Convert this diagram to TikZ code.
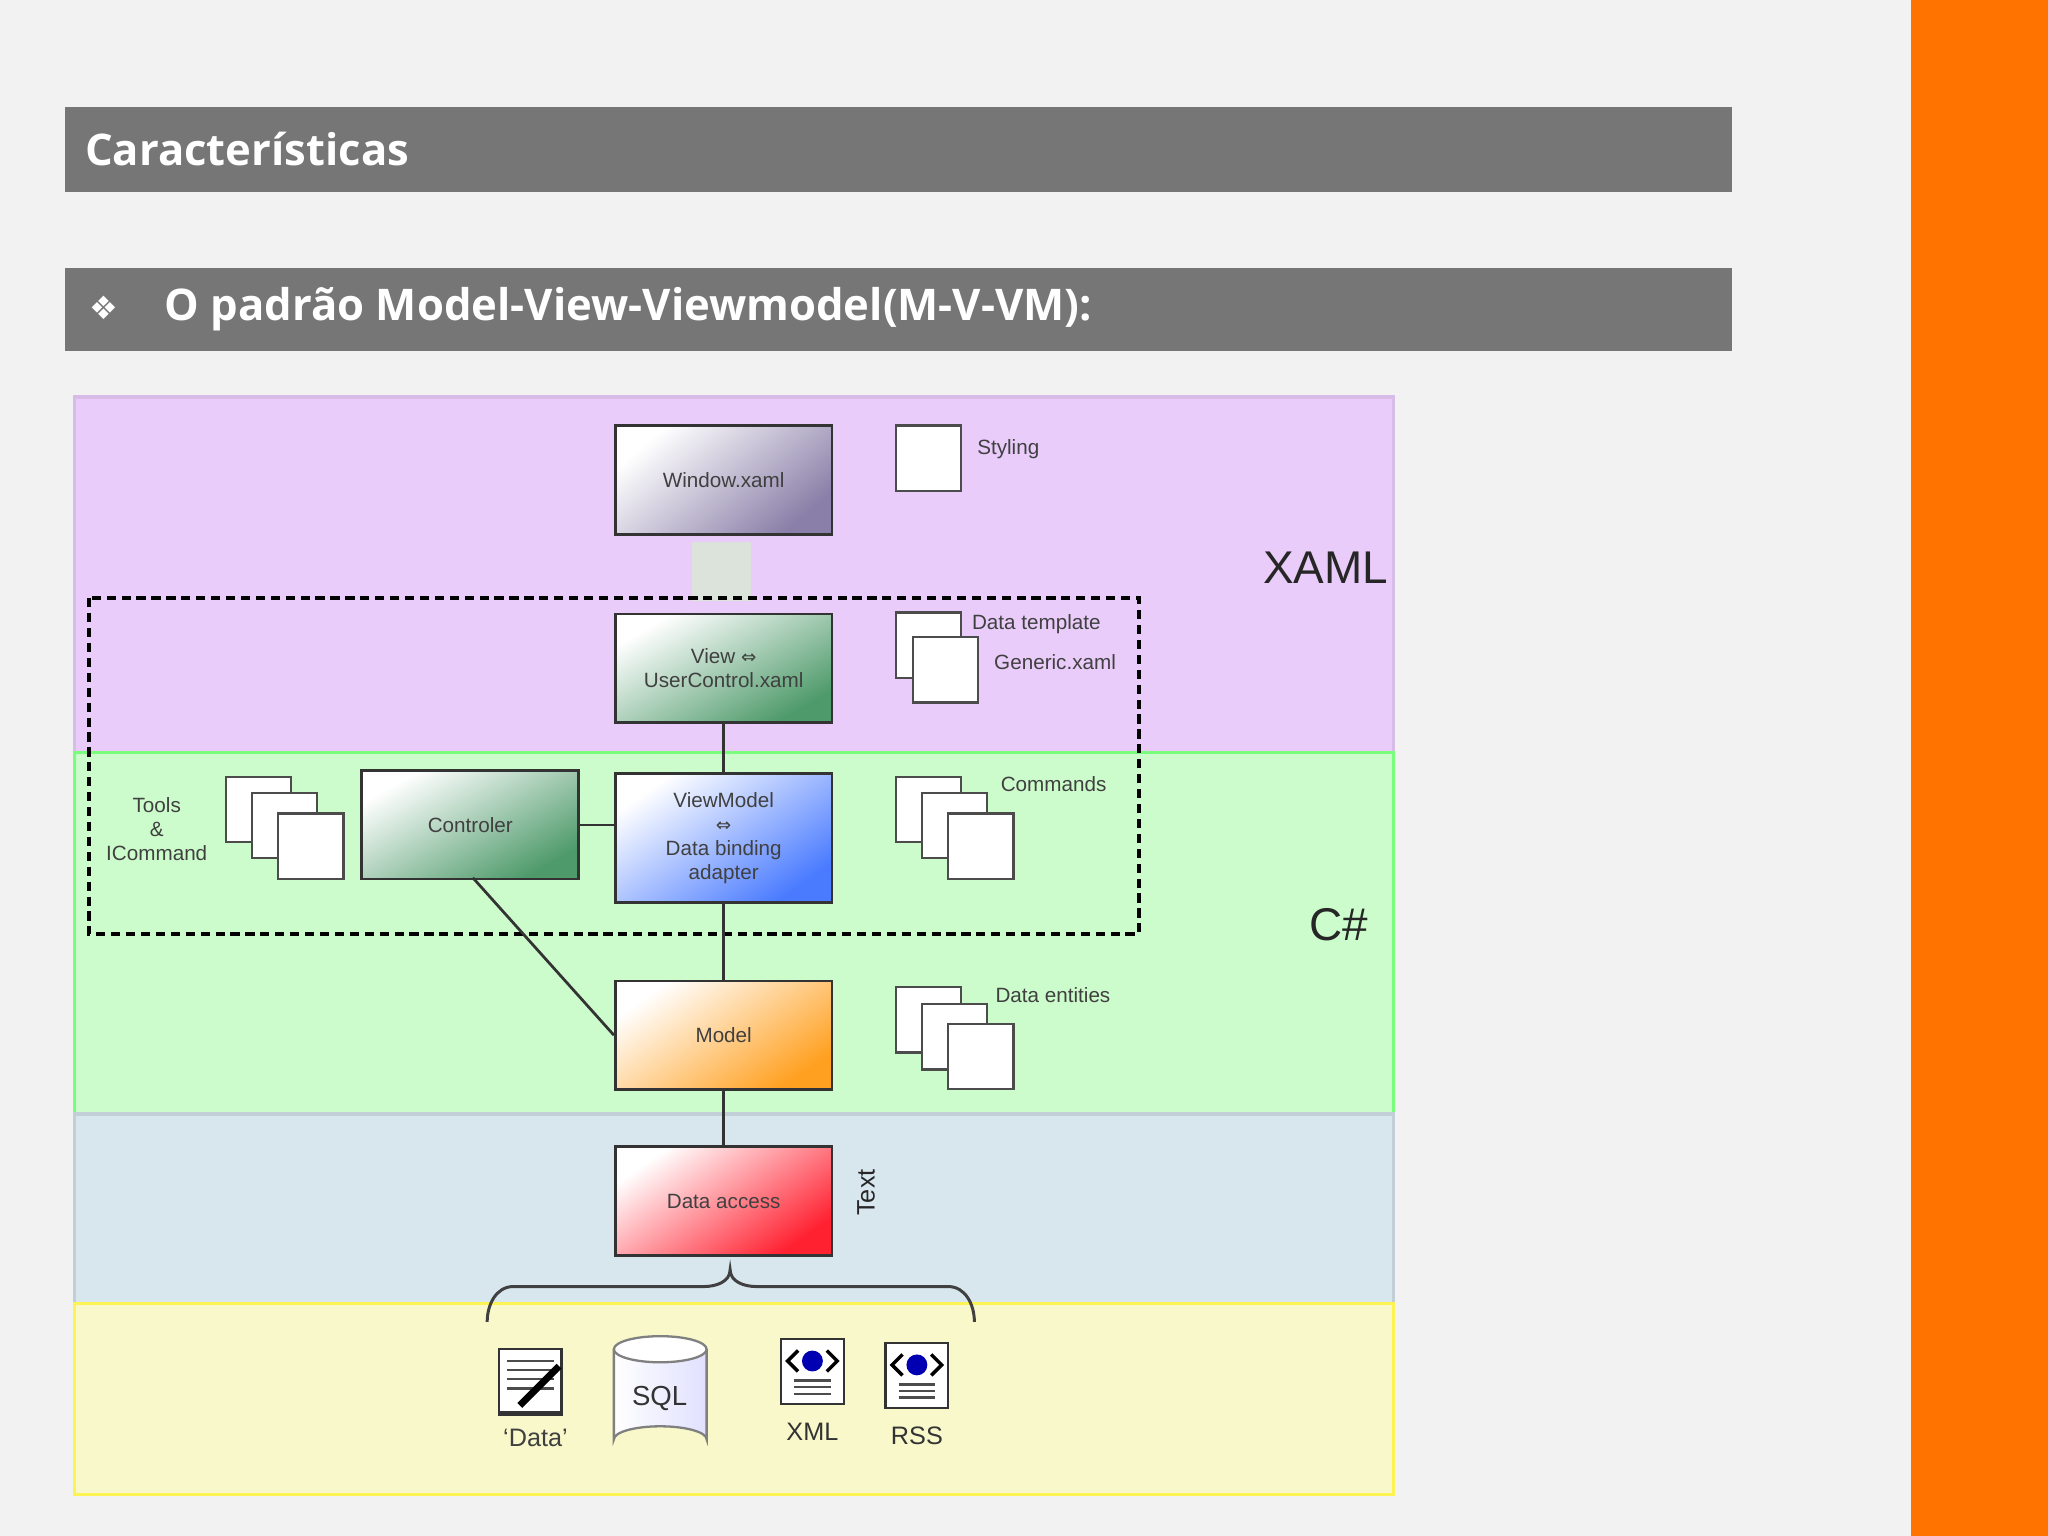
\documentclass[tikz,border=0pt]{standalone}
\usepackage{fontspec}
\setmainfont{Liberation Sans}
\newfontfamily\hdr{Open Sans}
\newfontfamily\dv{DejaVu Sans}
\usetikzlibrary{positioning}
\definecolor{bgc}{HTML}{F2F2F2}
\definecolor{orng}{HTML}{FF7300}
\definecolor{bar}{HTML}{767676}
\definecolor{purp}{HTML}{E9CCFA}
\definecolor{grn}{HTML}{CCFCCC}
\definecolor{blu}{HTML}{D8E6EE}
\definecolor{yel}{HTML}{F8F8CA}
\definecolor{wpur}{HTML}{8A7FA8}
\definecolor{wgrn}{HTML}{4E9A6A}
\definecolor{vblu}{HTML}{4A7BFF}
\definecolor{morg}{HTML}{FFA020}
\definecolor{dred}{HTML}{FF2030}
\tikzset{
 box/.style={draw=black!80,line width=1.2pt,minimum width=166*0.02cm,minimum height=83*0.02cm,align=center,font=\fontsize{9}{10.5}\selectfont,text=black!75,anchor=north west},
 sq/.style={draw=black!70,fill=white,line width=1pt,minimum size=50*0.02cm,anchor=north west,inner sep=0pt},
 lbl/.style={font=\fontsize{9}{10.5}\selectfont,text=black!75,align=center},
 ln/.style={draw=black!80,line width=1.2pt},
 band/.style={line width=1.5pt},
 hd/.style={anchor=west,text=white,font=\hdr\bfseries\fontsize{19}{22}\selectfont}
}
\newcommand{\eqv}{{\dv\fontsize{8}{9}\selectfont ⇔}}
\begin{document}
\begin{tikzpicture}[x=0.02cm,y=-0.02cm]
\fill[bgc] (0,0) rectangle (1568,1176);
\useasboundingbox (0,0) rectangle (1568,1176);
\fill[orng] (1463,0) rectangle (1568,1176);
\fill[bar] (50,82) rectangle (1326,147);
\node[hd] (t1) at (59,114) {Características};
\fill[bar] (50,205) rectangle (1326,269);
\node[anchor=west,text=white,font=\dv\fontsize{14}{16}\selectfont] (dia) at (62,236) {❖};
\node[hd] (t2) at (120,237) {O padrão Model-View-Viewmodel(M-V-VM):};
% bands
\filldraw[purp,draw=purp!80!black!40!purp,band] (57,304) rectangle (1067,576);
\filldraw[grn,draw=green!40!grn,band] (57,576) rectangle (1067,853);
\filldraw[blu,draw=blu!90!black,band] (57,853) rectangle (1067,998);
\filldraw[yel,draw=yellow!60!yel,band] (57,998) rectangle (1067,1144);
% arrow block
\fill[green!12!gray!25] (530,415) rectangle (575,460);
% dashed
\draw[dashed,line width=1.8pt,dash pattern=on 4pt off 2.5pt] (68,458) rectangle (872,715);
% boxes
\node[box,top color=white,bottom color=wpur,shading angle=40] (win) at (470,325) {Window.xaml};
\node[box,top color=white,bottom color=wgrn,shading angle=30] (view) at (470,469) {View \eqv\\UserControl.xaml};
\node[box,minimum height=99*0.02cm,top color=white,bottom color=vblu,shading angle=35] (vm) at (470,591) {ViewModel\\\eqv\\Data binding\\adapter};
\node[box,top color=white,bottom color=wgrn,shading angle=30] (ctl) at (276,589) {Controler};
\node[box,top color=white,bottom color=morg,shading angle=35] (model) at (470,750) {Model};
\node[box,top color=white,bottom color=dred,shading angle=35] (da) at (470,877) {Data access};
% connectors
\draw[ln] (view.south) -- (vm.north);
\draw[ln] (ctl.east) -- (ctl.east -| vm.west);
\draw[ln] (vm.south) -- (model.north);
\coordinate (cb) at (362,672);
\draw[ln] (cb) -- (model.west);
\draw[ln] (model.south) -- (da.north);
% squares
\node[sq] (st) at (685,325) {};
\node[lbl,anchor=west] (stl) at (742,344) {Styling};
\node[sq] (dt1) at (685,468) {};
\node[sq] (dt2) at (698,487) {};
\node[lbl,anchor=west] (dtl) at (738,478) {Data template};
\node[lbl,anchor=west] (gxl) at (755,507) {Generic.xaml};
\node[sq] (c1) at (685,594) {};
\node[sq] (c2) at (705,606) {};
\node[sq] (c3) at (725,622) {};
\node[lbl,anchor=west] (cl) at (760,600) {Commands};
\node[sq] (e1) at (685,755) {};
\node[sq] (e2) at (705,768) {};
\node[sq] (e3) at (725,783) {};
\node[lbl,anchor=west] (el) at (756,762) {Data entities};
\node[sq] (k1) at (172,594) {};
\node[sq] (k2) at (192,606) {};
\node[sq] (k3) at (212,622) {};
\node[lbl] (tl) at (120,635) {Tools\\\&\\ICommand};
\node[font=\fontsize{20}{22}\selectfont,text=black!85] (xaml) at (1015,435) {XAML};
\node[font=\fontsize{20}{22}\selectfont,text=black!85] (cs) at (1025,708) {C\#};
\node[font=\fontsize{11}{12}\selectfont,text=black!85,rotate=90] (txt) at (663,913) {Text};
% brace
\draw[line width=1.3pt,black!75] (373,1012) to[out=90,in=180] (393,985) -- (539,985) to[out=0,in=270] (559,972) to[out=270,in=180] (579,985) -- (726,985) to[out=0,in=90] (746,1012);
% icons
\node[draw=black!80,fill=white,line width=1pt,minimum width=48*0.02cm,minimum height=50*0.02cm,inner sep=0pt] (doc) at (406,1058) {};
\foreach \yy in {1042,1049,1056,1063} \draw[black!70,line width=1pt] (388,\yy) -- (424,\yy);
\draw[black,line width=3pt] (398,1076) -- (428,1046);
\fill[black!80] (383,1080) rectangle (430,1084);
\node[lbl,font=\fontsize{11}{12}\selectfont] (dl) at (410,1101) {`Data'};
% cylinder
\draw[gray,line width=1pt,top color=white,bottom color=blue!12,shading angle=90] (470,1033) -- (470,1102) arc[x radius=35.5,y radius=10,start angle=180,end angle=360] -- (541,1033);
\draw[gray,line width=1pt,fill=white] (505.5,1033) ellipse[x radius=35.5,y radius=10];
\node[font=\fontsize{12}{13}\selectfont,text=black!80] (sql) at (505,1071) {SQL};
% xml rss
\foreach \nm/\cx/\cy/\lab in {xml/622/1050/XML,rss/702/1053/RSS}{
 \node[draw=black!80,fill=white,line width=1pt,minimum width=48*0.02cm,minimum height=50*0.02cm,inner sep=0pt] (\nm) at (\cx,\cy) {};
 \fill[blue!70!black] (\cx,\cy-8) circle[radius=8];
 \draw[black,line width=1.5pt] (\cx-11,\cy-16) -- (\cx-19,\cy-8) -- (\cx-11,\cy);
 \draw[black,line width=1.5pt] (\cx+11,\cy-16) -- (\cx+19,\cy-8) -- (\cx+11,\cy);
 \foreach \dy in {7,12,17} \draw[black!70,line width=1pt] (\cx-14,\cy+\dy) -- (\cx+14,\cy+\dy);
 \node[font=\fontsize{11}{12}\selectfont,text=black!80] (\nm l) at (\cx,\cy+46) {\lab};
}
\end{tikzpicture}
\end{document}
